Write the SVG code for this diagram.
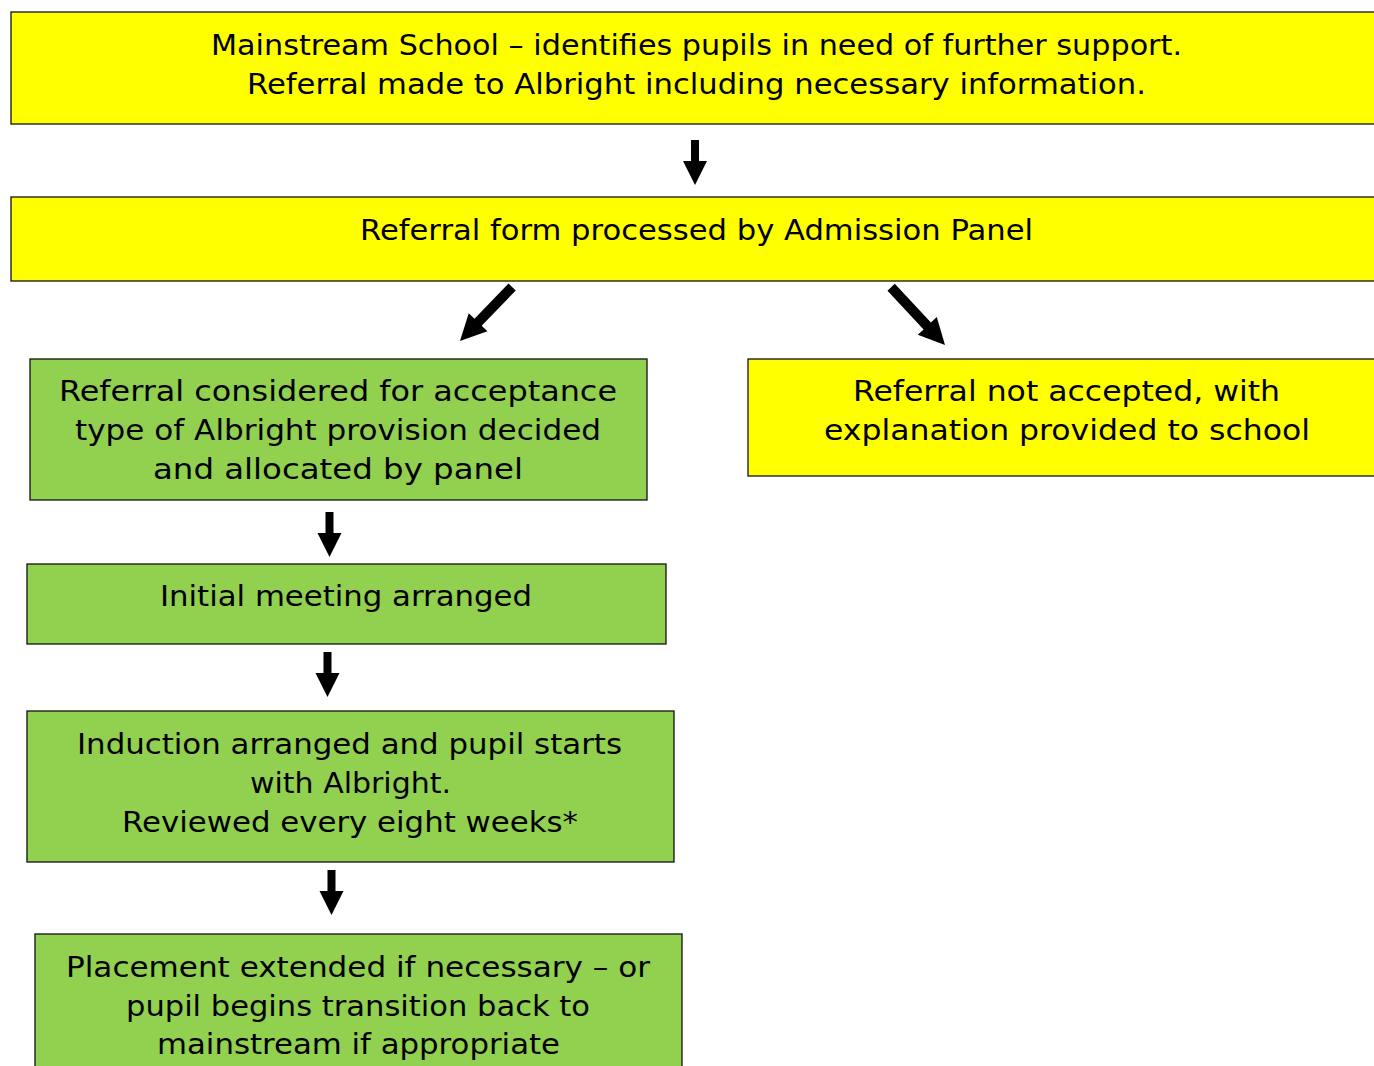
<svg xmlns="http://www.w3.org/2000/svg" width="1374" height="1066" viewBox="0 0 1374 1066">
<style>
.y{fill:#FFFF00;stroke:#111;stroke-width:1.3}
.g{fill:#92D050;stroke:#111;stroke-width:1.3}
text{font-family:"DejaVu Sans","Liberation Sans",sans-serif;font-size:29px;fill:#000;text-anchor:middle}
.a{fill:#000}
</style>
<rect width="1374" height="1066" fill="#fff"/>
<g id="n1">
<rect class="y" x="11" y="12" width="1370" height="112"/>
<text x="696.5" y="55" textLength="971" lengthAdjust="spacingAndGlyphs">Mainstream School – identifies pupils in need of further support.</text>
<text x="696.5" y="94" textLength="899" lengthAdjust="spacingAndGlyphs">Referral made to Albright including necessary information.</text>
</g>
<g id="n2">
<rect class="y" x="11" y="197" width="1370" height="84"/>
<text x="696.5" y="240" textLength="673" lengthAdjust="spacingAndGlyphs">Referral form processed by Admission Panel</text>
</g>
<g id="n3">
<rect class="g" x="30" y="359" width="617" height="141"/>
<text x="338" y="401" textLength="558" lengthAdjust="spacingAndGlyphs">Referral considered for acceptance</text>
<text x="338" y="440" textLength="526" lengthAdjust="spacingAndGlyphs">type of Albright provision decided</text>
<text x="338" y="479" textLength="370" lengthAdjust="spacingAndGlyphs">and allocated by panel</text>
</g>
<g id="n4">
<rect class="y" x="748" y="359" width="633" height="117"/>
<text x="1066.5" y="401" textLength="427" lengthAdjust="spacingAndGlyphs">Referral not accepted, with</text>
<text x="1067" y="440" textLength="486" lengthAdjust="spacingAndGlyphs">explanation provided to school</text>
</g>
<g id="n5">
<rect class="g" x="27" y="564" width="639" height="80"/>
<text x="346" y="606" textLength="372" lengthAdjust="spacingAndGlyphs">Initial meeting arranged</text>
</g>
<g id="n6">
<rect class="g" x="27" y="711" width="647" height="151"/>
<text x="349.5" y="754" textLength="545" lengthAdjust="spacingAndGlyphs">Induction arranged and pupil starts</text>
<text x="350.5" y="793" textLength="201" lengthAdjust="spacingAndGlyphs">with Albright.</text>
<text x="350" y="832" textLength="456" lengthAdjust="spacingAndGlyphs">Reviewed every eight weeks*</text>
</g>
<g id="n7">
<rect class="g" x="35" y="934" width="647" height="140"/>
<text x="358" y="977" textLength="584" lengthAdjust="spacingAndGlyphs">Placement extended if necessary – or</text>
<text x="358" y="1016" textLength="464" lengthAdjust="spacingAndGlyphs">pupil begins transition back to</text>
<text x="358.5" y="1054" textLength="403" lengthAdjust="spacingAndGlyphs">mainstream if appropriate</text>
</g>
<g id="connectors">
<polygon class="a" transform="translate(695,185)" points="-4,-45 4,-45 4,-24 12,-24 0,0 -12,-24 -4,-24"/>
<polygon class="a" transform="translate(460,341) rotate(44)" points="-5,-75 5,-75 5,-26 13,-26 0,0 -13,-26 -5,-26"/>
<polygon class="a" transform="translate(945,345) rotate(-43)" points="-5,-79 5,-79 5,-26 13,-26 0,0 -13,-26 -5,-26"/>
<polygon class="a" transform="translate(329.5,557)" points="-4,-45 4,-45 4,-24 12,-24 0,0 -12,-24 -4,-24"/>
<polygon class="a" transform="translate(327.5,697)" points="-4,-45 4,-45 4,-24 12,-24 0,0 -12,-24 -4,-24"/>
<polygon class="a" transform="translate(331.5,915)" points="-4,-45 4,-45 4,-24 12,-24 0,0 -12,-24 -4,-24"/>
</g>
</svg>
